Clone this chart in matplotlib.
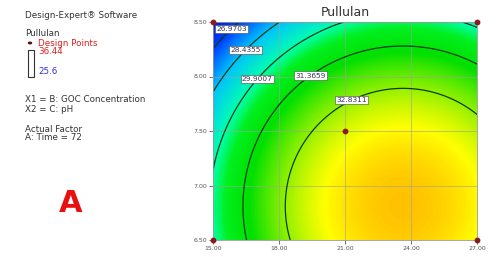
import numpy as np
import matplotlib
matplotlib.use("Agg")
import matplotlib.pyplot as plt
from matplotlib.colors import LinearSegmentedColormap
from matplotlib.patches import Rectangle

# fitted response surface: Pullulan vs GOC conc. and pH
center = [23.64, 6.81]
peak = 34.56
curv = [0.0603, 1.479]

levels = [26.9703, 28.4355, 29.9007, 31.3659, 32.8311]
label_pos = [(16.2, 8.36), (16.8, 8.18), (17.5, 7.89), (19.5, 7.99), (21.3, 7.78)]

design_x = [15, 27, 21, 15, 27]
design_y = [8.5, 8.5, 7.5, 6.5, 6.5]

resp_hi = 36.44
resp_lo = 25.6

# colour anchors (response value -> colour)
cmap_vals = [25.6, 27.0, 28.4, 29.9, 30.6, 31.6, 32.8, 33.8, 36.44]
cmap_cols = ["#0010d0", "#0040ff", "#00c0ff", "#00ffb0", "#00f020",
             "#00e000", "#90f000", "#ffff00", "#ff3000"]

xticks = [15, 18, 21, 24, 27]
yticks = [6.5, 7.0, 7.5, 8.0, 8.5]

W, H = 498, 257
fig = plt.figure(figsize=(W / 100, H / 100), dpi=100)
ax = fig.add_axes([213 / W, 17 / H, 264 / W, 218 / H])

gx = np.linspace(15, 27, 300)
gy = np.linspace(6.5, 8.5, 300)
X, Y = np.meshgrid(gx, gy)
Z = peak - curv[0] * (X - center[0]) ** 2 - curv[1] * (Y - center[1]) ** 2

span = resp_hi - resp_lo
cmap = LinearSegmentedColormap.from_list(
    "de", [((v - resp_lo) / span, c) for v, c in zip(cmap_vals, cmap_cols)])
ax.imshow(Z, extent=[15, 27, 6.5, 8.5], origin="lower", aspect="auto",
          cmap=cmap, vmin=resp_lo, vmax=resp_hi, interpolation="bilinear")

for t in xticks[1:-1]:
    ax.axvline(t, color="#a0a0a0", lw=0.6, alpha=0.7)
for t in yticks[1:-1]:
    ax.axhline(t, color="#a0a0a0", lw=0.6, alpha=0.7)

cs = ax.contour(X, Y, Z, levels=levels, colors="#0b3d0b", linewidths=0.9)
lbls = ax.clabel(cs, fmt="%.4f", fontsize=5.3, manual=label_pos, inline=False)
for t in lbls:
    t.set_rotation(0)
    t.set_color("#333355")
    t.set_bbox(dict(boxstyle="square,pad=0.15", fc="white", ec="#444444", lw=0.4))

ax.scatter(design_x, design_y, s=10, color="#8b1a1a", zorder=5, clip_on=False)

ax.set_xlim(15, 27)
ax.set_ylim(6.5, 8.5)
ax.set_xticks(xticks)
ax.set_xticklabels(["%.2f" % v for v in xticks])
ax.set_yticks(yticks)
ax.set_yticklabels(["%.2f" % v for v in yticks])
ax.tick_params(labelsize=4.5, colors="#555555", length=3, width=0.6, pad=1.5)
for s in ax.spines.values():
    s.set_color("#999999")
    s.set_linewidth(0.6)
ax.set_title("Pullulan", fontsize=9, color="#333333", pad=4)

# left side annotation block
def ftext(px, py, s, **kw):
    fig.text(px / W, 1 - py / H, s, va="center", ha="left", **kw)

fs = 6.3
ftext(25, 15, "Design-Expert\u00ae Software", fontsize=fs, color="#333333")
ftext(25, 33, "Pullulan", fontsize=fs, color="#333333")
fig.patches.append(plt.Circle((30 / W, 1 - 43 / H), 1.5 / W, transform=fig.transFigure,
                              color="#5a1010", figure=fig))
ftext(38, 43, "Design Points", fontsize=fs, color="#e02020")
ftext(38, 52, "%.2f" % resp_hi, fontsize=fs, color="#e02020")
fig.patches.append(Rectangle((28 / W, 1 - 77 / H), 6 / W, 27 / H, transform=fig.transFigure,
                             fill=False, ec="#333333", lw=0.8, figure=fig))
ftext(38, 71, "%.1f" % resp_lo, fontsize=fs, color="#3030e0")
ftext(25, 100, "X1 = B: GOC Concentration", fontsize=fs, color="#333333")
ftext(25, 109, "X2 = C: pH", fontsize=fs, color="#333333")
ftext(25, 129, "Actual Factor", fontsize=fs, color="#333333")
ftext(25, 138, "A: Time = 72", fontsize=fs, color="#333333")
fig.text(71 / W, 1 - 203 / H, "A", fontsize=22, fontweight="bold", color="#e81010",
         ha="center", va="center")

fig.savefig("out.png", dpi=100)
